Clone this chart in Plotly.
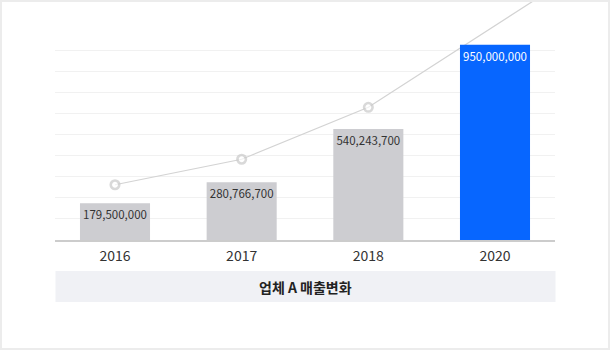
import plotly.graph_objects as go

# ---- data ----
years = ["2016", "2017", "2018", "2020"]
sales = [179_500_000, 280_766_700, 540_243_700, 950_000_000]
# growth trend line (last point runs past the final category)
trend_x = [0, 1, 2, 3, 4]
trend_values = [269_000_000, 393_000_000, 646_000_000, 1_043_000_000, 1_441_000_000]
chart_title = "업체 A 매출변화"

# ---- styling ----
FONT = "Noto Sans CJK KR"
GRAY_BAR = "#cdcdd1"
BLUE_BAR = "#0766ff"
LINE_GRAY = "#d3d3d3"
GRID = "#f1f1f1"

W, H = 610, 350
ML, MR, MT, MB = 55, 55, 0, 110
PLOT_W, PLOT_H = W - ML - MR, H - MT - MB

grid_top = 925_000_000          # value of the highest gridline
grid_count = 9
grid_step = grid_top / grid_count
y_max = grid_top * PLOT_H / 190  # top gridline sits 190px above the baseline
grid_vals = [grid_step * k for k in range(1, grid_count + 1)]


def px_x(px):
    return (px - ML) / PLOT_W


def px_y(py):
    return (PLOT_H + MT - py) / PLOT_H


idx = list(range(len(years)))
bar_colors = [GRAY_BAR] * (len(years) - 1) + [BLUE_BAR]
text_colors = ["#333333"] * (len(years) - 1) + ["#ffffff"]

fig = go.Figure()

# trend line sits underneath the bars
fig.add_trace(go.Scatter(
    x=trend_x, y=trend_values,
    mode="lines+markers",
    line=dict(color=LINE_GRAY, width=1.2),
    marker=dict(symbol="circle", size=[8.5, 8.5, 8.5, 0, 0], color="white",
                line=dict(color="#cacaca", width=2.6)),
    hoverinfo="skip", showlegend=False,
    xaxis="x", yaxis="y",
))

fig.add_trace(go.Bar(
    x=idx, y=sales,
    width=0.553,
    marker=dict(color=bar_colors, line=dict(width=0)),
    texttemplate="%{y:,}",
    textposition="inside",
    insidetextanchor="end",
    constraintext="none",
    textangle=0,
    textfont=dict(family=FONT, size=11.5, color=text_colors),
    hoverinfo="skip", showlegend=False,
    xaxis="x", yaxis="y2",
))

x_range = [-60 / 126.67, 3 + 60 / 126.67]

fig.update_layout(
    width=W, height=H,
    margin=dict(l=ML, r=MR, t=MT, b=MB, pad=0, autoexpand=False),
    paper_bgcolor="white", plot_bgcolor="white",
    font=dict(family=FONT, color="#333333"),
    xaxis=dict(
        range=x_range, tickmode="array", tickvals=idx, ticktext=years,
        showgrid=False, zeroline=False, ticks="",
        showline=True, linecolor="#cccccc", linewidth=1.5,
        ticklabelstandoff=2,
        tickfont=dict(family=FONT, size=14, color="#333333"),
        fixedrange=True,
    ),
    yaxis=dict(
        range=[0, y_max], tickmode="array", tickvals=grid_vals,
        showticklabels=False, ticks="",
        showgrid=True, gridcolor=GRID, gridwidth=1,
        zeroline=False, showline=False, fixedrange=True,
    ),
    yaxis2=dict(
        range=[0, y_max], overlaying="y", visible=False, fixedrange=True,
    ),
    shapes=[
        # caption band under the axis
        dict(type="rect", xref="paper", yref="paper", layer="below",
             x0=px_x(55.5), x1=px_x(555.5), y0=px_y(302), y1=px_y(271),
             fillcolor="#f0f1f5", line=dict(width=0)),
        # card outline
        dict(type="rect", xref="paper", yref="paper", layer="above",
             x0=px_x(1), x1=px_x(609), y0=px_y(349), y1=px_y(1),
             fillcolor="rgba(0,0,0,0)", line=dict(color="#ececec", width=2)),
    ],
    annotations=[
        dict(text=chart_title, xref="paper", yref="paper",
             x=px_x(305.5), y=px_y(286.5), xanchor="center", yanchor="middle",
             showarrow=False,
             font=dict(family=FONT, size=14, color="#222222", weight="bold")),
    ],
)

fig.write_html("out.html")
